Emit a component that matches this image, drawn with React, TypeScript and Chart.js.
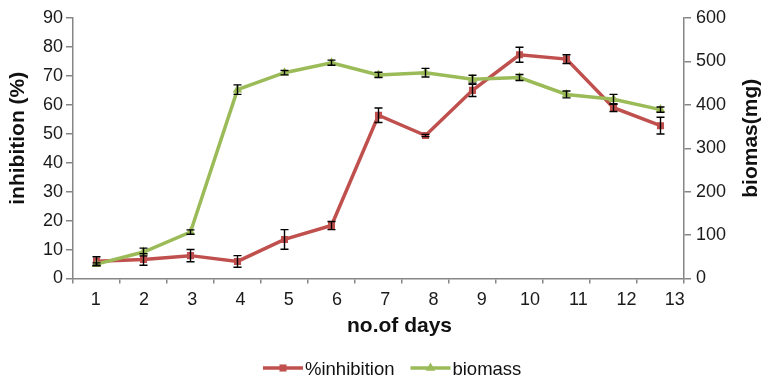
import React, { useEffect, useRef } from 'react';
import { Chart, registerables } from 'chart.js';

Chart.register(...registerables);

const days = ['1', '2', '3', '4', '5', '6', '7', '8', '9', '10', '11', '12', '13'];
const inhibition = [6.0, 6.6, 7.9, 5.9, 13.5, 18.3, 56.4, 49.4, 65.0, 77.3, 75.8, 59.0, 52.8];
const inhibitionErr = [1.5, 2.0, 2.1, 2.0, 3.4, 1.4, 2.5, 0.4, 2.1, 2.6, 1.5, 1.3, 2.9];
const biomass = [33, 61, 107, 435, 474, 497, 469, 474, 459, 463, 424, 413, 389];
const biomassErr = [3, 9, 5, 11, 5, 6, 6, 10, 9, 7, 8, 11, 6];

const RED = '#C0504D';
const GREEN = '#9BBB59';
const AXIS = '#868686';
const FONT = "'Liberation Sans', Arial, Helvetica, sans-serif";

function drawMarker(ctx: CanvasRenderingContext2D, style: string, x: number, y: number, r: number, color: string) {
  ctx.save();
  ctx.fillStyle = color;
  ctx.beginPath();
  if (style === 'rect') {
    const s = r * Math.SQRT1_2;
    ctx.rect(x - s, y - s, 2 * s, 2 * s);
  } else {
    ctx.moveTo(x, y - r);
    ctx.lineTo(x + r * 0.866, y + r * 0.5);
    ctx.lineTo(x - r * 0.866, y + r * 0.5);
    ctx.closePath();
  }
  ctx.fill();
  ctx.restore();
}

const errorBarsPlugin = {
  id: 'errorBars',
  afterDatasetsDraw(chart: any, _args: any, opts: any) {
    const ctx = chart.ctx as CanvasRenderingContext2D;
    const errs: number[][] = opts.errors || [];
    ctx.save();
    ctx.strokeStyle = '#000';
    ctx.lineWidth = 1.4;
    chart.data.datasets.forEach((ds: any, i: number) => {
      const meta = chart.getDatasetMeta(i);
      const yScale = chart.scales[meta.yAxisID];
      const e = errs[i];
      if (!e) return;
      meta.data.forEach((pt: any, j: number) => {
        const v = ds.data[j];
        const yt = yScale.getPixelForValue(v + e[j]);
        const yb = yScale.getPixelForValue(v - e[j]);
        const cw = 4;
        ctx.beginPath();
        ctx.moveTo(pt.x, yt);
        ctx.lineTo(pt.x, yb);
        ctx.moveTo(pt.x - cw, yt);
        ctx.lineTo(pt.x + cw, yt);
        ctx.moveTo(pt.x - cw, yb);
        ctx.lineTo(pt.x + cw, yb);
        ctx.stroke();
      });
    });
    ctx.restore();
  },
};

const titlesLegendPlugin = {
  id: 'titlesLegend',
  afterDraw(chart: any) {
    const ctx = chart.ctx as CanvasRenderingContext2D;
    const area = chart.chartArea;
    ctx.save();
    ctx.fillStyle = '#111';
    ctx.font = `bold 21px ${FONT}`;
    ctx.textAlign = 'center';
    ctx.textBaseline = 'middle';
    const cy = area.top + (area.bottom - area.top) / 2 - 10;
    ctx.save();
    ctx.translate(18, cy);
    ctx.rotate(-Math.PI / 2);
    ctx.fillText('inhibition (%)', 0, 0);
    ctx.restore();
    ctx.save();
    ctx.translate(751, cy);
    ctx.rotate(-Math.PI / 2);
    ctx.fillText('biomas(mg)', 0, 0);
    ctx.restore();
    ctx.fillText('no.of days', 399.5, 326);
    ctx.restore();

    // legend
    ctx.save();
    ctx.font = `18.5px ${FONT}`;
    ctx.textBaseline = 'alphabetic';
    ctx.textAlign = 'left';
    let x = 263;
    const ly = 368;
    chart.data.datasets.forEach((ds: any) => {
      ctx.strokeStyle = ds.borderColor;
      ctx.lineWidth = 3.5;
      ctx.beginPath();
      ctx.moveTo(x, ly);
      ctx.lineTo(x + 40, ly);
      ctx.stroke();
      drawMarker(ctx, ds.pointStyle, x + 20, ly, ds.pointRadius, ds.borderColor);
      ctx.fillStyle = '#111';
      ctx.fillText(ds.label, x + 42, 375);
      x = x + 42 + ctx.measureText(ds.label).width + 16;
    });
    ctx.restore();
  },
};

export default function App() {
  const ref = useRef<HTMLCanvasElement | null>(null);
  useEffect(() => {
    document.body.style.margin = '0';
    if (!ref.current) return;
    const tickFont = { family: FONT, size: 18 };
    const chart = new Chart(ref.current, {
      type: 'line',
      data: {
        labels: days,
        datasets: [
          {
            label: '%inhibition',
            data: inhibition,
            yAxisID: 'y',
            borderColor: RED,
            backgroundColor: RED,
            borderWidth: 3.5,
            pointStyle: 'rect',
            pointRadius: 5,
            pointBorderWidth: 0,
            tension: 0,
            order: 2,
          } as any,
          {
            label: 'biomass',
            data: biomass,
            yAxisID: 'y1',
            borderColor: GREEN,
            backgroundColor: GREEN,
            borderWidth: 3.5,
            pointStyle: 'triangle',
            pointRadius: 5.5,
            pointBorderWidth: 0,
            tension: 0,
            order: 1,
          } as any,
        ],
      },
      options: {
        animation: false,
        responsive: false,
        layout: { padding: { top: 18, left: 0, right: 0, bottom: 0 } },
        plugins: {
          legend: { display: false },
          tooltip: { enabled: false },
          errorBars: { errors: [inhibitionErr, biomassErr] },
        } as any,
        scales: {
          x: {
            type: 'category',
            offset: true,
            weight: 0,
            grid: { offset: true, drawOnChartArea: false, drawTicks: true, tickLength: 5, color: AXIS, lineWidth: 1.5 },
            border: { color: AXIS, width: 1.5 },
            ticks: { display: false, autoSkip: false },
            afterFit(scale: any) {
              scale.height = 5;
              scale.paddingLeft = 0;
              scale.paddingRight = 0;
            },
          },
          xl: {
            type: 'linear',
            position: 'bottom',
            weight: 1,
            min: 0.53,
            max: 13.19,
            grid: { display: false, drawTicks: false, drawOnChartArea: false },
            border: { display: false },
            ticks: {
              stepSize: 1,
              includeBounds: false,
              autoSkip: false,
              maxRotation: 0,
              font: tickFont,
              color: '#1a1a1a',
              padding: 6,
              callback: (v: any) => days[Math.round(v) - 1] ?? '',
            },
            afterFit(scale: any) {
              scale.height = 92.5;
              scale.paddingLeft = 0;
              scale.paddingRight = 0;
            },
          },
          y: {
            position: 'left',
            min: 0,
            max: 90,
            ticks: { stepSize: 10, font: tickFont, color: '#1a1a1a', padding: 3 },
            grid: { drawOnChartArea: false, tickLength: 7, color: AXIS, lineWidth: 1.5 },
            border: { color: AXIS, width: 1.5 },
            afterFit(scale: any) {
              scale.width = 73;
              scale.paddingTop = 0;
              scale.paddingBottom = 0;
            },
          },
          y1: {
            position: 'right',
            min: 0,
            max: 600,
            ticks: { stepSize: 100, font: tickFont, color: '#1a1a1a', padding: 5 },
            grid: { drawOnChartArea: false, tickLength: 7, color: AXIS, lineWidth: 1.5 },
            border: { color: AXIS, width: 1.5 },
            afterFit(scale: any) {
              scale.width = 78;
              scale.paddingTop = 0;
              scale.paddingBottom = 0;
            },
          },
        } as any,
      },
      plugins: [errorBarsPlugin, titlesLegendPlugin],
    });
    return () => chart.destroy();
  }, []);
  return (
    <div style={{ width: 762, height: 376 }}>
      <canvas ref={ref} width={762} height={376} style={{ width: 762, height: 376, display: 'block' }} />
    </div>
  );
}
